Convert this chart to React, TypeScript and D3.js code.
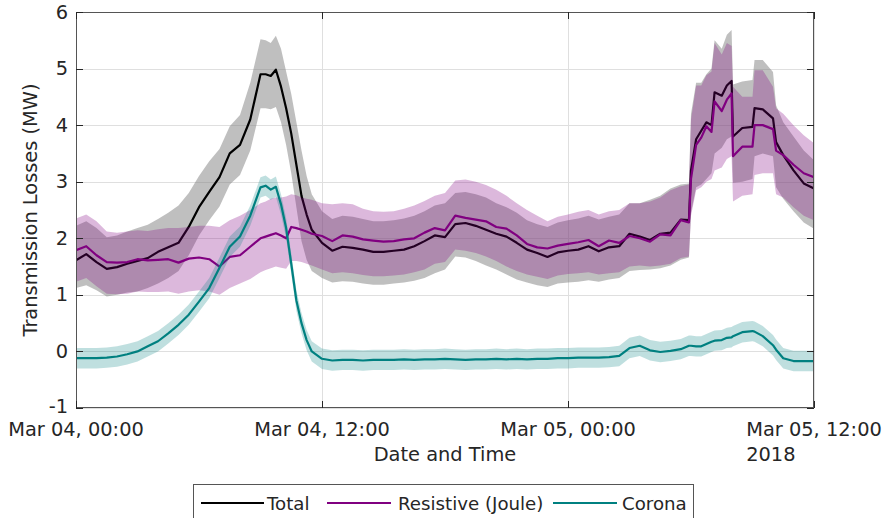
import React from 'react';
import * as d3 from 'd3';

// ---- data (hours since Mar 04 2018, 00:00) ----
const hours = [0,0.5,1,1.5,2,2.5,3,3.5,4,4.5,5,5.5,6,6.5,7,7.5,8,8.5,9,9.25,9.5,9.75,10,10.25,10.5,10.75,11,11.25,11.5,12,12.5,13,13.5,14,14.5,15,15.5,16,16.5,17,17.5,18,18.5,19,19.5,20,20.5,21,21.5,22,22.5,23,23.5,24,24.5,25,25.5,26,26.5,27,27.5,28,28.5,29,29.5,29.9,30,30.25,30.5,30.75,31,31.15,31.5,31.75,31.98,32.05,32.5,33,33.1,33.5,34,34.15,34.5,35,35.5,36];

const totalMean = [1.61,1.72,1.58,1.46,1.49,1.55,1.60,1.65,1.76,1.84,1.92,2.20,2.55,2.82,3.08,3.50,3.65,4.10,4.90,4.90,4.87,4.98,4.68,4.30,3.85,3.30,2.75,2.42,2.15,1.92,1.78,1.85,1.83,1.80,1.76,1.76,1.78,1.80,1.86,1.95,2.05,2.02,2.25,2.27,2.22,2.15,2.08,2.03,1.92,1.80,1.74,1.67,1.75,1.78,1.80,1.86,1.77,1.84,1.86,2.08,2.03,1.97,2.08,2.10,2.33,2.32,3.20,3.75,3.90,4.05,4.00,4.58,4.52,4.70,4.78,3.80,3.95,3.97,4.30,4.28,4.12,3.70,3.47,3.20,2.97,2.88];
const totalLo = [1.12,1.17,1.08,0.97,1.00,1.04,1.06,1.12,1.20,1.30,1.42,1.70,2.05,2.32,2.56,2.95,3.12,3.55,4.30,4.30,4.28,4.32,4.05,3.65,3.15,2.55,1.95,1.62,1.42,1.30,1.22,1.24,1.23,1.20,1.18,1.18,1.20,1.22,1.25,1.30,1.38,1.45,1.68,1.66,1.60,1.52,1.45,1.36,1.27,1.22,1.17,1.14,1.20,1.22,1.23,1.26,1.23,1.27,1.30,1.42,1.44,1.45,1.47,1.52,1.62,1.66,2.45,2.90,2.95,3.05,3.15,3.50,3.60,3.75,3.80,2.98,3.00,3.05,3.45,3.50,3.45,2.90,2.70,2.48,2.28,2.17];
const totalHi = [2.22,2.30,2.18,2.02,2.05,2.12,2.18,2.24,2.34,2.45,2.58,2.80,3.10,3.36,3.58,3.98,4.18,4.75,5.52,5.50,5.45,5.58,5.35,4.95,4.55,4.05,3.55,3.10,2.78,2.48,2.34,2.40,2.38,2.34,2.30,2.30,2.32,2.35,2.40,2.48,2.58,2.62,2.80,2.82,2.78,2.72,2.62,2.55,2.45,2.32,2.25,2.20,2.28,2.32,2.35,2.40,2.33,2.38,2.42,2.62,2.62,2.68,2.75,2.88,2.95,2.97,4.20,4.75,4.75,4.90,5.00,5.50,5.35,5.60,5.68,4.72,4.77,4.80,5.15,5.15,4.94,4.35,4.05,3.80,3.55,3.38];

const resMean = [1.79,1.86,1.70,1.58,1.57,1.58,1.63,1.61,1.62,1.63,1.57,1.64,1.66,1.63,1.50,1.67,1.70,1.85,2.00,2.03,2.06,2.09,2.05,2.00,2.20,2.18,2.15,2.12,2.08,2.04,1.95,2.05,2.03,1.98,1.96,1.94,1.95,1.98,2.00,2.10,2.18,2.14,2.40,2.36,2.33,2.30,2.20,2.17,2.05,1.90,1.84,1.82,1.87,1.90,1.93,1.97,1.86,1.96,1.92,2.04,2.00,1.94,2.07,2.05,2.32,2.28,3.05,3.65,3.78,3.98,3.88,4.42,4.25,4.45,4.56,3.45,3.62,3.62,4.00,4.00,3.93,3.55,3.47,3.30,3.15,3.08];
const resLo = [1.23,1.30,1.15,1.02,1.01,1.02,1.06,1.05,1.05,1.06,1.02,1.06,1.08,1.06,1.00,1.12,1.20,1.28,1.40,1.44,1.47,1.50,1.48,1.46,1.60,1.60,1.58,1.55,1.52,1.45,1.38,1.40,1.38,1.35,1.33,1.33,1.34,1.36,1.40,1.45,1.55,1.58,1.80,1.78,1.74,1.68,1.60,1.50,1.42,1.36,1.32,1.28,1.34,1.37,1.38,1.40,1.36,1.38,1.40,1.50,1.52,1.50,1.52,1.55,1.65,1.68,2.40,2.85,2.90,3.00,3.05,3.20,3.25,3.40,3.45,2.65,2.75,2.78,3.12,3.15,3.15,2.78,2.72,2.55,2.40,2.32];
const resHi = [2.35,2.42,2.30,2.12,2.10,2.12,2.14,2.13,2.16,2.18,2.18,2.20,2.22,2.22,2.20,2.32,2.40,2.50,2.62,2.65,2.70,2.72,2.72,2.74,2.78,2.76,2.72,2.70,2.68,2.62,2.60,2.62,2.60,2.52,2.48,2.47,2.48,2.52,2.58,2.66,2.75,2.80,3.02,3.04,3.00,2.94,2.86,2.75,2.62,2.50,2.40,2.30,2.38,2.42,2.47,2.50,2.42,2.48,2.50,2.62,2.62,2.65,2.72,2.85,2.92,2.95,4.10,4.70,4.70,4.88,4.95,5.45,5.25,5.45,5.40,4.68,4.50,4.50,4.97,4.97,4.68,4.30,4.20,4.00,3.82,3.68];

const coronaMean = [-0.12,-0.12,-0.12,-0.11,-0.09,-0.05,0.00,0.09,0.18,0.32,0.47,0.65,0.88,1.12,1.48,1.85,2.03,2.40,2.90,2.93,2.86,2.91,2.60,2.18,1.55,0.90,0.50,0.20,0.00,-0.13,-0.16,-0.15,-0.15,-0.16,-0.15,-0.15,-0.15,-0.14,-0.15,-0.14,-0.14,-0.13,-0.14,-0.15,-0.14,-0.14,-0.13,-0.14,-0.13,-0.14,-0.13,-0.13,-0.12,-0.12,-0.11,-0.11,-0.11,-0.10,-0.08,0.06,0.10,0.02,-0.01,0.01,0.04,0.10,0.10,0.09,0.09,0.13,0.17,0.19,0.20,0.24,0.25,0.27,0.34,0.36,0.35,0.27,0.11,0.03,-0.12,-0.17,-0.17,-0.17];
const CORONA_SPREAD = 0.18;

const yTicks = [-1, 0, 1, 2, 3, 4, 5, 6];
const xTickHours = [0, 12, 24, 36];
const yearLabel = '2018';
const xLabel = 'Date and Time';
const yLabel = 'Transmission Losses (MW)';
const legendLabels = ['Total', 'Resistive (Joule)', 'Corona'];

const FONT = '"DejaVu Sans", sans-serif';
const FS = 19.4;
const LEG_FS = 18.2;
const TXT = '#262626';

function measure(text: string): number {
  const c = document.createElement('canvas').getContext('2d');
  if (!c) return text.length * 10;
  c.font = `${FS}px "DejaVu Sans"`;
  return c.measureText(text).width;
}

export default function App() {
  const W = 890, H = 518;
  const L = 76, R = 814, T = 12, B = 408;
  const t0 = new Date(2018, 2, 4, 0, 0, 0);
  const toDate = (h: number) => new Date(t0.getTime() + h * 3600e3);
  const x = d3.scaleTime().domain([toDate(0), toDate(36)]).range([L, R]);
  const y = d3.scaleLinear().domain([-1, 6]).range([B, T]);
  const fmt = d3.timeFormat('%b %d, %H:%M');

  const idx = hours.map((_, i) => i);
  const px = (i: number) => x(toDate(hours[i]));
  const band = (lo: (i: number) => number, hi: (i: number) => number) =>
    d3.area<number>().x(px).y0((i) => y(lo(i))).y1((i) => y(hi(i)))(idx) || '';
  const line = (v: number[]) => d3.line<number>().x(px).y((i) => y(v[i]))(idx) || '';

  const lastLabel = fmt(toDate(36));
  const yearX = x(toDate(36)) - measure(lastLabel) / 2;

  const tickLen = 7;

  return (
    <svg width={W} height={H} style={{ position: 'absolute', left: 0, top: 0, background: '#fff' }}
      fontFamily={FONT} fontSize={FS}>
      <defs>
        <clipPath id="plotclip"><rect x={L} y={T} width={R - L} height={B - T} /></clipPath>
      </defs>
      <rect x={0} y={0} width={W} height={H} fill="#fff" />
      {/* grid */}
      <g stroke="#dfdfdf" strokeWidth={1}>
        {yTicks.map((v) => <line key={'gy' + v} x1={L} x2={R} y1={Math.round(y(v)) + 0.5} y2={Math.round(y(v)) + 0.5} />)}
        {xTickHours.map((h) => <line key={'gx' + h} x1={Math.round(x(toDate(h))) + 0.5} x2={Math.round(x(toDate(h))) + 0.5} y1={T} y2={B} />)}
      </g>
      <g clipPath="url(#plotclip)">
        <path d={band((i) => totalLo[i], (i) => totalHi[i])} fill="#808080" fillOpacity={0.5} />
        <path d={line(totalMean)} fill="none" stroke="#000" strokeWidth={2.2} strokeLinejoin="round" />
        <path d={band((i) => resLo[i], (i) => resHi[i])} fill="#800080" fillOpacity={0.28} />
        <path d={line(resMean)} fill="none" stroke="#800080" strokeWidth={2.2} strokeLinejoin="round" />
        <path d={band((i) => coronaMean[i] - CORONA_SPREAD, (i) => coronaMean[i] + CORONA_SPREAD)} fill="#008080" fillOpacity={0.25} />
        <path d={line(coronaMean)} fill="none" stroke="#008080" strokeWidth={2.2} strokeLinejoin="round" />
      </g>
      {/* axes box and ticks */}
      <g stroke={TXT} strokeWidth={1} fill="none">
        <rect x={L + 0.5} y={T + 0.5} width={R - L - 1} height={B - T - 1} stroke="#555" />
        {yTicks.map((v) => {
          const yy = Math.round(y(v)) + 0.5;
          return (
            <g key={'ty' + v}>
              <line x1={L} x2={L + tickLen} y1={yy} y2={yy} />
              <line x1={R - tickLen} x2={R} y1={yy} y2={yy} />
            </g>
          );
        })}
        {xTickHours.map((h) => {
          const xx = Math.round(x(toDate(h))) + 0.5;
          return (
            <g key={'tx' + h}>
              <line x1={xx} x2={xx} y1={B} y2={B - tickLen} />
              <line x1={xx} x2={xx} y1={T} y2={T + tickLen} />
            </g>
          );
        })}
      </g>
      {/* tick labels */}
      <g fill={TXT}>
        {yTicks.map((v) => (
          <text key={'ly' + v} x={L - 8} y={y(v) - (v === -1 ? 2 : 0)} textAnchor="end" dominantBaseline="central">{v}</text>
        ))}
        {xTickHours.map((h) => (
          <text key={'lx' + h} x={x(toDate(h))} y={436} textAnchor="middle">{fmt(toDate(h))}</text>
        ))}
        <text x={yearX} y={461}>{yearLabel}</text>
        <text x={(L + R) / 2} y={461} textAnchor="middle">{xLabel}</text>
        <text transform={`translate(37,${(T + B) / 2}) rotate(-90)`} textAnchor="middle">{yLabel}</text>
      </g>
      {/* legend */}
      <g fontSize={LEG_FS}>
        <rect x={193.5} y={484.5} width={500} height={40} fill="#fff" stroke="#555" />
        <line x1={201} x2={264} y1={503} y2={503} stroke="#000" strokeWidth={2} />
        <text x={267} y={510} fill={TXT}>{legendLabels[0]}</text>
        <line x1={327} x2={391} y1={503} y2={503} stroke="#800080" strokeWidth={2} />
        <text x={398} y={510} fill={TXT}>{legendLabels[1]}</text>
        <line x1={553} x2={617} y1={503} y2={503} stroke="#008080" strokeWidth={2} />
        <text x={622} y={510} fill={TXT}>{legendLabels[2]}</text>
      </g>
    </svg>
  );
}
